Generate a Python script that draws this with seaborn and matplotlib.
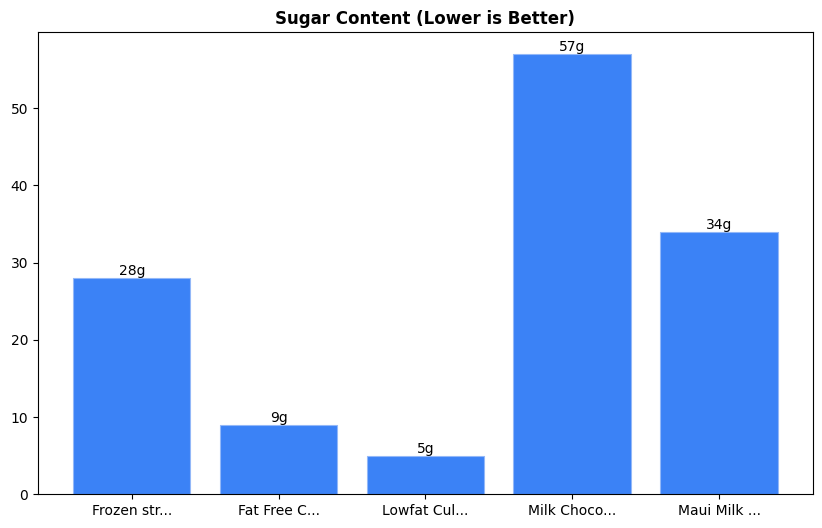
import matplotlib
matplotlib.use("Agg")
import matplotlib.pyplot as plt
import seaborn as sns

# Chart data
products = ["Frozen str...", "Fat Free C...", "Lowfat Cul...", "Milk Choco...", "Maui Milk ..."]
sugar = [28, 9, 5, 57, 34]

fig = plt.figure(figsize=(8.22, 5.28), dpi=100)
ax = fig.add_axes([0.046, 0.064, 0.943, 0.875])

sns.barplot(
    x=products,
    y=sugar,
    color="#3b82f6",
    saturation=1,
    width=0.8,
    edgecolor="#93b8f8",
    linewidth=0.8,
    ax=ax,
)

for i, v in enumerate(sugar):
    ax.text(i, v, f"{v}g", ha="center", va="bottom", fontsize=10)

ax.set_xlim(-0.64, 4.64)
ax.set_ylim(0, max(sugar) * 1.05)
ax.set_xlabel("")
ax.set_ylabel("")
ax.set_title("Sugar Content (Lower is Better)", fontweight="bold", fontsize=12)

fig.savefig("out.png", dpi=100)
